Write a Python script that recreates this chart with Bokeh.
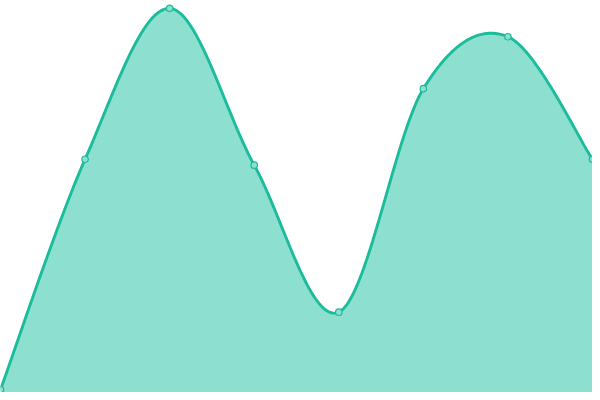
import numpy as np
from bokeh.plotting import figure
from bokeh.models import Range1d
from bokeh.embed import file_html
from bokeh.resources import INLINE

# data
categories = [0, 1, 2, 3, 4, 5, 6, 7]
values = [0.75, 59.5, 98.0, 58.0, 20.5, 77.5, 90.75, 59.5]

LINE = "#1abc9c"
FILL = "#8ddfcf"

def catmull_rom(xs, ys, n=40):
    xs = np.asarray(xs, float); ys = np.asarray(ys, float)
    px = np.concatenate([[xs[0]], xs, [xs[-1]]])
    py = np.concatenate([[ys[0]], ys, [ys[-1]]])
    out_x, out_y = [], []
    t = np.linspace(0, 1, n, endpoint=False)
    for i in range(1, len(px) - 2):
        x0, x1, x2, x3 = px[i-1], px[i], px[i+1], px[i+2]
        y0, y1, y2, y3 = py[i-1], py[i], py[i+1], py[i+2]
        c1x, c1y = x1 + (x2 - x0) / 6, y1 + (y2 - y0) / 6
        c2x, c2y = x2 - (x3 - x1) / 6, y2 - (y3 - y1) / 6
        bx = (1-t)**3*x1 + 3*(1-t)**2*t*c1x + 3*(1-t)*t**2*c2x + t**3*x2
        by = (1-t)**3*y1 + 3*(1-t)**2*t*c1y + 3*(1-t)*t**2*c2y + t**3*y2
        out_x.extend(bx); out_y.extend(by)
    out_x.append(xs[-1]); out_y.append(ys[-1])
    return np.array(out_x), np.array(out_y)

sx, sy = catmull_rom(categories, values)

p = figure(width=592, height=392, output_backend="svg", toolbar_location=None,
           x_range=Range1d(0, 7), y_range=Range1d(0, 100), min_border=0)
p.axis.visible = False
p.grid.visible = False
p.outline_line_color = None
p.background_fill_color = "white"
p.border_fill_color = "white"

p.varea(x=sx, y1=np.zeros_like(sy), y2=sy, fill_color=FILL, fill_alpha=1.0)
p.line(sx, sy, line_color=LINE, line_width=2.9)
p.scatter(categories, values, size=6.5, fill_color=FILL, line_color=LINE, line_width=1.2)

open("out.html", "w").write(file_html(p, INLINE))
